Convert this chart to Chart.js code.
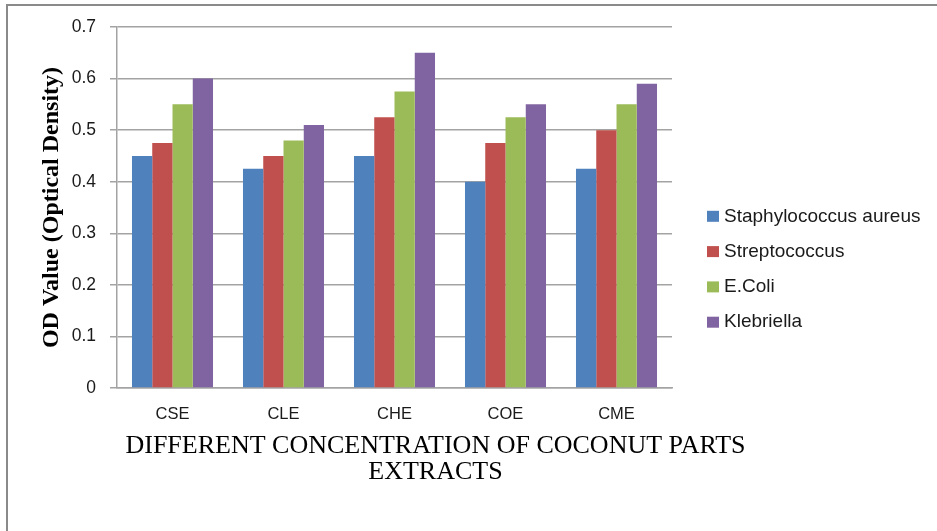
<!DOCTYPE html>
<html>
<head>
<meta charset="utf-8">
<script src="https://cdn.jsdelivr.net/npm/chart.js@4/dist/chart.umd.min.js"></script>
<style>
  html, body { margin: 0; padding: 0; background: #ffffff; }
  #wrap { position: relative; width: 937px; height: 531px; overflow: hidden; }
  #frame { position: absolute; left: 6px; top: 4px; right: -4px; bottom: -4px;
           border-top: 2px solid #8a8a8a; border-left: 2px solid #8a8a8a; pointer-events: none; }
  canvas { display: block; }
</style>
</head>
<body>
<div id="wrap">
  <canvas id="chart" width="937" height="531"></canvas>
  <div id="frame"></div>
</div>
<script>
// Coconut part extracts
const categories = ['CSE', 'CLE', 'CHE', 'COE', 'CME'];

// OD values per organism
const staphylococcusAureus = [0.45, 0.425, 0.45, 0.40, 0.425];
const streptococcus        = [0.475, 0.45, 0.525, 0.475, 0.50];
const eColi                = [0.55, 0.48, 0.575, 0.525, 0.55];
const klebriella           = [0.60, 0.51, 0.65, 0.55, 0.59];

const seriesNames = ['Staphylococcus aureus', 'Streptococcus', 'E.Coli', 'Klebriella'];
const yTickLabels = ['0', '0.1', '0.2', '0.3', '0.4', '0.5', '0.6', '0.7'];
const xTitleLines = ['DIFFERENT CONCENTRATION OF COCONUT PARTS', 'EXTRACTS'];
const yTitle = 'OD Value (Optical Density)';

const colors = ['#4f81bd', '#c0504d', '#9bbb59', '#8064a2'];
const seriesValues = [staphylococcusAureus, streptococcus, eColi, klebriella];

const sansFont = 'Liberation Sans';
const serifFont = 'Liberation Serif';
const textColor = '#1a1a1a';
const gridColor = '#a3a3a3';

// Two-line axis caption under the category labels
const xTitlePlugin = {
  id: 'xTitle',
  afterDraw(chart) {
    const ctx = chart.ctx;
    const area = chart.chartArea;
    const cx = (area.left + area.right) / 2 + 41;
    ctx.save();
    ctx.font = '26px "' + serifFont + '"';
    ctx.fillStyle = '#000000';
    ctx.textAlign = 'center';
    ctx.textBaseline = 'middle';
    xTitleLines.forEach((line, i) => {
      ctx.fillText(line, cx, area.bottom + 58 + i * 26.5);
    });
    ctx.restore();
  }
};

// Series key to the right of the plot
const sideLegendPlugin = {
  id: 'sideLegend',
  afterDraw(chart) {
    const ctx = chart.ctx;
    const area = chart.chartArea;
    const boxX = area.right + 35;
    const firstY = 216.3;
    const step = 35.3;
    ctx.save();
    ctx.font = '19px "' + sansFont + '"';
    ctx.textAlign = 'left';
    ctx.textBaseline = 'middle';
    chart.data.datasets.forEach((ds, i) => {
      const y = firstY + i * step;
      ctx.fillStyle = ds.backgroundColor;
      ctx.fillRect(boxX, y - 5.5, 12, 11);
      ctx.fillStyle = textColor;
      ctx.fillText(ds.label, boxX + 17, y);
    });
    ctx.restore();
  }
};

new Chart(document.getElementById('chart'), {
  type: 'bar',
  data: {
    labels: categories,
    datasets: seriesValues.map((vals, i) => ({
      label: seriesNames[i],
      data: vals,
      backgroundColor: colors[i],
      borderWidth: 0,
      categoryPercentage: 0.73,
      barPercentage: 1.0
    }))
  },
  options: {
    responsive: false,
    animation: false,
    devicePixelRatio: 1,
    layout: { padding: { left: 8, top: 27, right: 265, bottom: 19.5 } },
    plugins: {
      legend: { display: false },
      tooltip: { enabled: false }
    },
    scales: {
      x: {
        grid: { display: false, drawTicks: false },
        border: { display: true, color: gridColor, width: 1.5 },
        ticks: { font: { family: sansFont, size: 16.5 }, color: textColor, padding: 17 },
        afterFit(scale) { scale.height = 123.5; }
      },
      y: {
        min: 0,
        max: 0.7,
        ticks: {
          stepSize: 0.1,
          padding: 14,
          font: { family: sansFont, size: 17.5 },
          color: textColor,
          callback: (value, index) => yTickLabels[index]
        },
        grid: { color: gridColor, lineWidth: 1.5, tickLength: 7 },
        border: { color: gridColor, width: 1.5 },
        title: {
          display: true,
          text: yTitle,
          font: { family: serifFont, size: 24, weight: 'bold' },
          color: '#000000',
          padding: { top: 29.6, bottom: 0 }
        },
        afterFit(scale) { scale.width = 109; }
      }
    }
  },
  plugins: [xTitlePlugin, sideLegendPlugin]
});
</script>
</body>
</html>
